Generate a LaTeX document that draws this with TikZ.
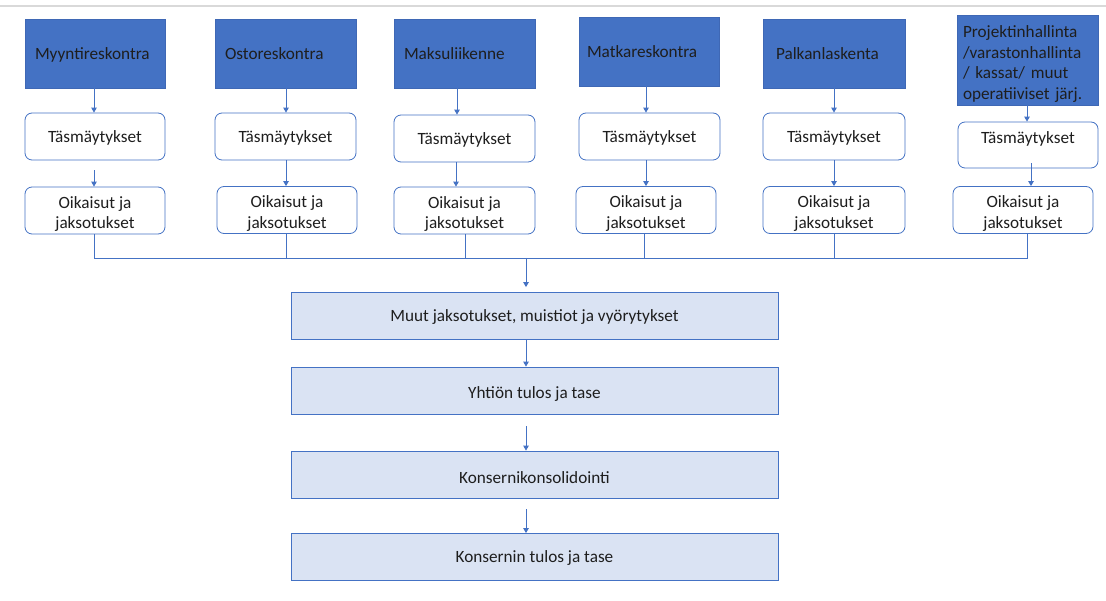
\documentclass[tikz,border=0pt]{standalone}
\usepackage{fontspec}
\setmainfont{Carlito}
\usetikzlibrary{arrows.meta}
\definecolor{accent}{HTML}{4472C4}
\definecolor{accentedge}{HTML}{3F68B5}
\definecolor{paleblue}{HTML}{DAE3F3}
\definecolor{ink}{HTML}{1E1E1E}
\definecolor{rule}{HTML}{D9D9D9}
\begin{document}
\begin{tikzpicture}[x=1pt,y=-1pt,
  every node/.style={font=\fontsize{17.2}{20.5}\selectfont, text=ink, text depth=-2pt},
  source/.style={fill=accent, draw=accentedge, line width=0.6pt,
    minimum height=69pt, text width=#1-20pt, inner xsep=10pt, inner ysep=0pt, align=left},
  stage/.style={draw=accent, fill=white, line width=0.8pt, rounded corners=7pt,
    minimum width=#1, minimum height=47pt, inner sep=0pt, align=center},
  stage/.default=140pt,
  twoline/.style={text depth=, text height=39pt},
  summary/.style={draw=accent, fill=paleblue, line width=0.8pt,
    minimum width=487pt, minimum height=47pt, inner sep=0pt},
  lowtext/.style={text height=17pt},
  flow/.style={draw=accent, line width=0.9pt, -{Triangle[width=5.5pt,length=5pt]}},
  joint/.style={draw=accent, line width=0.9pt}
]
\useasboundingbox[fill=white] (0,0) rectangle (1106,601);
\draw[rule, line width=1.2pt] (0,6) -- (1106,6);

% source systems
\node[source=140pt] (b1) at (95,53.5) {Myyntireskontra};
\node[source=141pt] (b2) at (285.5,53.5) {Ostoreskontra};
\node[source=141pt] (b3) at (464.5,53.5) {Maksuliikenne};
\node[source=140pt, inner xsep=8pt, text width=124pt] (b4) at (649,51.5) {Matkareskontra};
\node[source=142pt, inner xsep=13pt, text width=116pt] (b5) at (834,53.5) {Palkanlaskenta};
\node[source=141pt, minimum height=90pt, inner xsep=6pt, text width=129pt,
      text depth=, text height=20pt] (b6) at (1027.5,60)
  {Projektinhallinta\\/varastonhallinta\\/ kassat/ muut\\operatiiviset järj.};

% reconciliations
\node[stage] (t1) at (95,136.5) {Täsmäytykset};
\node[stage=141pt] (t2) at (285.5,136.5) {Täsmäytykset};
\node[stage=141pt] (t3) at (464.5,138.5) {Täsmäytykset};
\node[stage=141pt] (t4) at (649.5,136.5) {Täsmäytykset};
\node[stage=142pt] (t5) at (834,136.5) {Täsmäytykset};
\node[stage, minimum height=46pt, text depth=14pt] (t6) at (1028,145) {Täsmäytykset};

% corrections and accruals
\node[stage, twoline] (o1) at (95,210.5) {Oikaisut ja\\jaksotukset};
\node[stage, twoline] (o2) at (287,210) {Oikaisut ja\\jaksotukset};
\node[stage=141pt, twoline] (o3) at (464.5,210.5) {Oikaisut ja\\jaksotukset};
\node[stage, twoline] (o4) at (646,210) {Oikaisut ja\\jaksotukset};
\node[stage=142pt, twoline] (o5) at (834,210) {Oikaisut ja\\jaksotukset};
\node[stage, twoline] (o6) at (1023,210) {Oikaisut ja\\jaksotukset};

% consolidation chain
\node[summary] (m1) at (534.5,316) {Muut jaksotukset, muistiot ja vyörytykset};
\node[summary, lowtext] (m2) at (534.5,390.5) {Yhtiön tulos ja tase};
\node[summary, lowtext] (m3) at (534.5,474.5) {Konsernikonsolidointi};
\node[summary] (m4) at (534.5,557) {Konsernin tulos ja tase};

% source -> reconciliation
\draw[flow] ([xshift=-1pt]b1.south) -- ([xshift=-1pt]t1.north);
\draw[flow] ([xshift=0.5pt]b2.south) -- ([xshift=0.5pt]t2.north);
\draw[flow] ([xshift=-7.5pt]b3.south) -- ([xshift=-7.5pt]t3.north);
\draw[flow] ([xshift=-3pt]b4.south) -- ([xshift=-3.5pt]t4.north);
\draw[flow] (b5.south) -- (t5.north);
\draw[flow] ([xshift=-0.5pt]b6.south) -- ([xshift=-1pt]t6.north);

% reconciliation -> corrections
\draw[flow, shorten <=10pt] ([xshift=-1pt]t1.south) -- ([xshift=-1pt]o1.north);
\draw[flow] ([xshift=0.5pt]t2.south) -- ([xshift=-1pt]o2.north);
\draw[flow] ([xshift=-8.5pt]t3.south) -- ([xshift=-8.5pt]o3.north);
\draw[flow] ([xshift=-3.5pt]t4.south) -- (o4.north);
\draw[flow] (t5.south) -- (o5.north);
\draw[flow, shorten <=-5pt] ([xshift=3pt]t6.south) -- ([xshift=8pt]o6.north);

% collecting bus
\coordinate (bus) at (526,258);
\draw[joint] ([xshift=-1pt]o1.south) -- ([xshift=-1pt]o1.south |- bus)
  -- ([xshift=4pt]o6.south |- bus) -- ([xshift=4pt]o6.south);
\draw[joint] ([xshift=-1pt]o2.south) -- ([xshift=-1pt]o2.south |- bus);
\draw[joint] ([xshift=0.5pt]o3.south) -- ([xshift=0.5pt]o3.south |- bus);
\draw[joint] ([xshift=-2pt]o4.south) -- ([xshift=-2pt]o4.south |- bus);
\draw[joint] (o5.south) -- (o5.south |- bus);

% down the chain
\draw[flow, shorten >=5pt] (bus) -- (bus |- m1.north);
\draw[flow] ([xshift=-8.5pt]m1.south) -- ([xshift=-8.5pt]m2.north);
\draw[flow, shorten <=12pt] ([xshift=-8.5pt]m2.south) -- ([xshift=-8.5pt]m3.north);
\draw[flow, shorten <=11pt] ([xshift=-8.5pt]m3.south) -- ([xshift=-8.5pt]m4.north);
\end{tikzpicture}
\end{document}
